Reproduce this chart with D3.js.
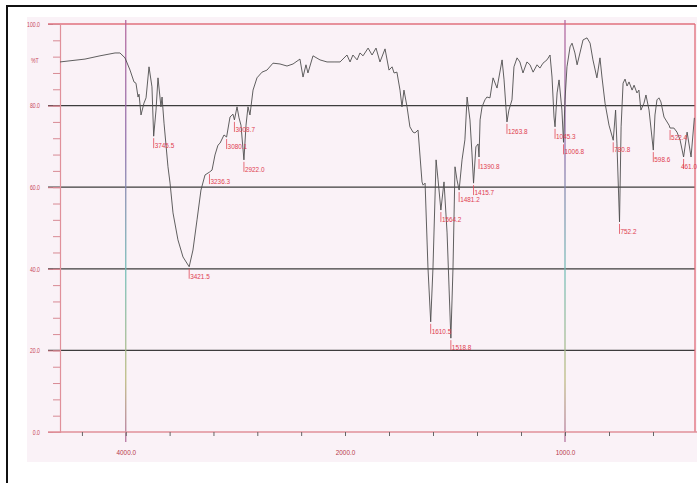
<!DOCTYPE html>
<html><head><meta charset="utf-8">
<script src="https://cdn.jsdelivr.net/npm/d3@7/dist/d3.min.js"></script>
<style>
html,body{margin:0;padding:0;background:#fff;}
svg{display:block;}
text{font-family:"Liberation Sans",Arial,sans-serif;}
</style></head>
<body>
<svg id="c" width="697" height="483"></svg>
<script>
// ---- data (wavenumber cm-1, %T) ----
const wavenumbers = [4600,4372,4235,4098,4053,4007,3961,3925,3907,3888,3879,3861,3834,3815,3788,3761,3745.5,3724,3706,3679,3669,3651,3615,3596,3569,3524,3478,3421.5,3387,3350,3314,3277,3236.3,3213,3186,3159,3140,3104,3080.1,3049,3022,3008.7,2985,2967,2949,2922.0,2903,2885,2867,2839,2803,2757,2712,2657,2593,2529,2474,2411,2383,2356,2338,2292,2228,2164,2100,2045,1991,1977,1964,1945,1932,1918,1895,1877,1859,1841,1818,1800,1786,1777,1764,1750,1741,1732,1718,1705,1691,1682,1668,1650,1645,1636,1623,1610.5,1600,1586,1577,1564.2,1550,1536,1518.8,1509,1500,1491,1481.2,1468,1455,1445,1432,1423,1415.7,1405,1395,1390.8,1386,1377,1364,1355,1341,1327,1309,1305,1286,1277,1263.8,1255,1241,1232,1218,1205,1191,1173,1159,1145,1127,1114,1100,1082,1068,1059,1050,1045.3,1036,1027,1014,1006.8,1000,991,977,968,955,945,932,918,900,886,873,855,841,832,818,800,780.8,770,764,752.2,745,736,727,718,709,695,686,673,664,655,641,632,618,598.6,591,582,573,564,550,527,522.4,505,491,477,461.0,445,432,427,412];
const transmittance = [90.7,91.4,92.2,92.9,92.9,91.7,88.7,85.8,85.5,82.1,82.8,77.7,80.6,81.9,89.5,84.6,72.5,78.9,86.8,79.7,82.1,75.7,65.0,61.0,53.7,47.1,42.9,40.5,44.6,52.0,59.3,63.0,63.7,64.2,67.9,70.3,70.8,72.8,72.3,77.2,77.9,76.5,79.7,77.0,75.2,66.7,75.2,79.7,77.7,83.8,86.8,88.2,88.7,90.4,90.2,89.7,90.2,91.4,87.0,90.0,88.0,92.2,91.2,90.7,90.7,90.7,92.4,90.7,92.4,91.2,92.9,92.2,94.1,92.4,94.1,90.7,93.9,88.7,89.5,88.0,88.2,83.8,79.7,83.8,79.7,74.8,73.5,73.3,74.0,61.3,60.5,61.0,40.4,27.0,40.4,66.7,61.8,54.4,61.3,48.8,23.0,40.4,65.0,61.8,59.3,66.7,71.6,82.1,76.5,68.4,61.0,69.9,70.6,67.4,76.5,79.7,81.4,82.1,81.9,86.8,84.3,85.5,91.2,86.3,76.0,78.9,81.4,89.5,91.7,90.7,88.0,90.7,90.0,88.2,90.0,89.2,90.4,91.2,92.4,87.0,77.2,74.8,83.1,86.3,78.9,71.0,81.4,89.5,94.4,95.3,92.9,90.0,92.9,96.1,96.6,95.3,91.2,86.8,91.7,87.0,80.6,75.2,71.5,78.9,70.8,51.5,74.8,85.5,86.5,84.8,85.8,83.8,85.0,83.1,83.8,78.9,80.6,82.6,78.9,69.1,77.7,81.4,81.9,80.9,77.2,75.2,74.5,74.5,73.5,71.6,67.4,73.5,69.1,67.4,77.0];
const peakLabels = ["3745.5","3421.5","3236.3","3080.1","3008.7","2922.0","1610.5","1564.2","1518.8","1481.2","1415.7","1390.8","1263.8","1045.3","1006.8","780.8","752.2","598.6","522.4","461.0"];
const yTicks = [0,20,40,60,80,100];
const yMinorTicks = d3.range(0,101,4);
const xMajorLabels = [4000,2000,1000];
const xMinorTicks = [4400,4000,3600,3200,2800,2400,2000,1800,1600,1400,1200,1000,800,600];
const gridValues = [20,40,60,80];
const markerLines = [4000,1000];

// ---- layout ----
const svg = d3.select("#c");
const x = d3.scaleLinear().domain([4600,2000,400]).range([60,345,697]);
const y = d3.scaleLinear().domain([0,100]).range([432,24]);
const plotRight = 695;
const NARROW = 0.8;

svg.append("rect").attr("x",0).attr("y",0).attr("width",697).attr("height",483).attr("fill","#fff");
// paper background
svg.append("rect").attr("x",27).attr("y",17).attr("width",670).attr("height",445).attr("fill","#faf2f7");
// outer frame
svg.append("line").attr("x1",6).attr("x2",697).attr("y1",6).attr("y2",6).attr("stroke","#111").attr("stroke-width",2);
svg.append("line").attr("x1",7).attr("x2",7).attr("y1",5).attr("y2",483).attr("stroke","#111").attr("stroke-width",2);

// gradient for vertical marker lines
const defs = svg.append("defs");
const grad = defs.append("linearGradient").attr("id","vg").attr("gradientUnits","userSpaceOnUse")
  .attr("x1",0).attr("x2",0).attr("y1",y(100)-4).attr("y2",y(0)+10);
grad.append("stop").attr("offset","0%").attr("stop-color","#b0609a");
grad.append("stop").attr("offset","30%").attr("stop-color","#8a6aa8");
grad.append("stop").attr("offset","60%").attr("stop-color","#6fbcb4");
grad.append("stop").attr("offset","85%").attr("stop-color","#b8b878");
grad.append("stop").attr("offset","100%").attr("stop-color","#b06a9a");

// gridlines
svg.append("g").selectAll("line").data(gridValues).join("line")
  .attr("x1",48).attr("x2",plotRight).attr("y1",d=>y(d)).attr("y2",d=>y(d))
  .attr("stroke","#3d3d3d").attr("stroke-width",1.3);

// top (100) line and right border
svg.append("line").attr("x1",48).attr("x2",plotRight).attr("y1",y(100)).attr("y2",y(100))
  .attr("stroke","#e0707e").attr("stroke-width",1.5);
svg.append("line").attr("x1",plotRight).attr("x2",plotRight).attr("y1",y(100)).attr("y2",y(0))
  .attr("stroke","#e06a78").attr("stroke-width",1.3);

// vertical marker lines
svg.append("g").selectAll("line").data(markerLines).join("line")
  .attr("x1",d=>x(d)).attr("x2",d=>x(d)).attr("y1",y(100)-4).attr("y2",y(0)+10)
  .attr("stroke","url(#vg)").attr("stroke-width",1.2);

function narrow(sel){
  sel.each(function(){
    const t = d3.select(this);
    const tx = +t.attr("x")||0;
    t.attr("transform",`translate(${tx*(1-NARROW)},0) scale(${NARROW},1)`);
  });
}

// y axis
const yAxis = svg.append("g").attr("transform","translate(60,0)")
  .call(d3.axisLeft(y).tickValues(yTicks).tickFormat(d3.format(".1f")).tickSize(12).tickPadding(8));
yAxis.select(".domain").attr("stroke","#e0909a").attr("stroke-width",1.2);
yAxis.selectAll(".tick line").attr("stroke","#d07a86");
yAxis.selectAll(".tick text").attr("fill","#c8485a").style("font-size","6.5px").attr("dy","0.35em").call(narrow);
const yMinor = svg.append("g").attr("transform","translate(60,0)")
  .call(d3.axisLeft(y).tickValues(yMinorTicks).tickFormat("").tickSize(7));
yMinor.select(".domain").remove();
yMinor.selectAll(".tick line").attr("stroke","#d88a94");

svg.append("text").attr("x",31).attr("y",y(91)).attr("dy","0.35em").text("%T")
  .attr("fill","#c8485a").style("font-size","6.5px").call(narrow);

// x axis
const xAxis = svg.append("g").attr("transform",`translate(0,${y(0)})`)
  .call(d3.axisBottom(x).tickValues(xMinorTicks).tickFormat("").tickSize(4));
xAxis.select(".domain").attr("stroke","#e0909a").attr("stroke-width",1.3).attr("d","M48,0H697");
xAxis.selectAll(".tick line").attr("stroke","#666");
const xLab = svg.append("g").attr("transform",`translate(0,${y(0)})`)
  .call(d3.axisBottom(x).tickValues(xMajorLabels).tickFormat(d3.format(".1f")).tickSize(0).tickPadding(17));
xLab.select(".domain").remove();
xLab.selectAll(".tick text").attr("fill","#b83848").style("font-size","8px").attr("transform","scale(0.8,1)");

// spectrum
const pts = wavenumbers.map((w,i)=>[w,transmittance[i]]);
svg.append("path").datum(pts)
  .attr("d", d3.line().x(d=>x(d[0])).y(d=>y(d[1])))
  .attr("fill","none").attr("stroke","#4e4e4e").attr("stroke-width",0.9).attr("stroke-linejoin","round");

// peak labels
const peaks = peakLabels.map(t=>{
  const w = +t; const i = wavenumbers.indexOf(w);
  return {t, w, T: transmittance[i]};
});
const pg = svg.append("g").selectAll("g").data(peaks).join("g")
  .attr("transform",d=>`translate(${x(d.w)},${y(d.T)})`);
pg.append("line").attr("x1",0).attr("x2",0).attr("y1",2).attr("y2",12)
  .attr("stroke","#e04a5a").attr("stroke-width",0.8);
pg.append("text").attr("x",1).attr("y",12).text(d=>d.t)
  .attr("fill","#e0404f").style("font-size","8px")
  .each(function(d){
    const w = this.getComputedTextLength()*NARROW;
    const px = x(d.w);
    let dx = 1;
    if (px + dx + w > 697) dx = 697 - px - w;
    d3.select(this).attr("x",0).attr("transform",`translate(${dx},0) scale(${NARROW},1)`);
  });
</script>
</body></html>
